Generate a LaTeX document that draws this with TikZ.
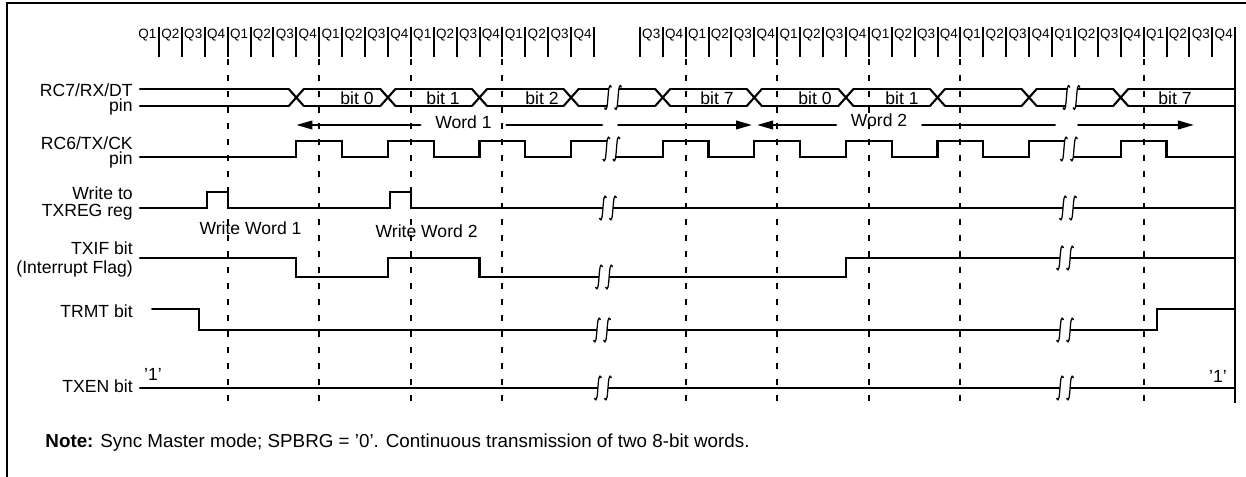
\documentclass[tikz,border=0pt]{standalone}
\usepackage{fontspec}
\setmainfont{Liberation Sans}
\usetikzlibrary{arrows.meta}
% break mark: two wavy strokes with a white gap between
\newcommand{\sigbreak}[3]{%
	\fill[white] (#1-0.07,#2-#3+3) .. controls (#1-0.265,#2-#3-8) and (#1-0.175,#2+#3+8) .. (#1-0.37,#2+#3-3)
		-- (#1+0.07,#2+#3-3) .. controls (#1+0.265,#2+#3+8) and (#1+0.175,#2-#3-8) .. (#1+0.37,#2-#3+3) -- cycle;
	\draw[brk] (#1-0.07,#2-#3+3) .. controls (#1-0.265,#2-#3-8) and (#1-0.175,#2+#3+8) .. (#1-0.37,#2+#3-3);
	\draw[brk] (#1+0.37,#2-#3+3) .. controls (#1+0.175,#2-#3-8) and (#1+0.265,#2+#3+8) .. (#1+0.07,#2+#3-3);
}
\begin{document}
\begin{tikzpicture}[x=4.58mm, y=-0.2mm,
		sig/.style={line width=0.42mm, line cap=round},
		tick/.style={line width=0.4mm},
		guide/.style={line width=0.4mm, dash pattern=on 1.2mm off 2mm},
		brk/.style={line width=0.25mm},
		wordarrow/.style={sig, -{Triangle[length=3.2mm,width=1.7mm]}},
		lbl/.style={font=\fontsize{10}{12}\selectfont, inner sep=0pt, anchor=base east},
		qlbl/.style={font=\fontsize{7.7}{9}\selectfont, inner sep=0pt, anchor=base},
		bitlbl/.style={font=\fontsize{10}{12}\selectfont, inner sep=0pt, anchor=base},
		wordlbl/.style={font=\fontsize{10}{12}\selectfont, inner ysep=0pt, inner xsep=2.9mm, anchor=base}]
				\useasboundingbox (-5.939,0) rectangle (48.472,477);
				% frame
				\draw[line width=0.5mm] (-5.63,477) -- (-5.63,3) -- (48.6,3);
				% Q cycles
				\foreach \k in {1,...,46} {
					\pgfmathtruncatemacro\j{\k+(\k>20)}
					\draw[tick] (\j,27) -- (\j,57);
				}
				\foreach \k in {0,...,45} {
					\pgfmathtruncatemacro\j{\k+2*(\k>19)}
					\pgfmathtruncatemacro\q{mod(\j,4)+1}
					\node[qlbl] (q\j) at (\j+0.5,39) {Q\q};
				}
				\draw[tick] (48,27) -- (48,403);
				% cycle boundaries
				\foreach \x in {4,8,12,16,24,28,32,36,44}
					\draw[guide] (\x,27) -- (\x,407);

				% RC7/RX/DT data
				\foreach \n in {1,...,10}
					\draw[sig] (4*\n+2.67,89) -- (4*\n+3.33,106) (4*\n+2.67,106) -- (4*\n+3.33,89);
				\draw[sig] (0.17,89) -- (6.67,89) (0.17,106) -- (6.67,106);
				\foreach \n in {1,...,9}
					\draw[sig] (4*\n+3.33,89) -- (4*\n+6.67,89) (4*\n+3.33,106) -- (4*\n+6.67,106);
				\draw[sig] (43.33,89) -- (48,89) (43.33,106) -- (48,106);
				\foreach \x/\t/\nm in {9.65/0/ba, 13.41/1/bb, 17.73/2/bc, 25.37/7/bd, 29.65/0/be, 33.45/1/bf, 45.37/7/bg}
					\node[bitlbl] (\nm) at (\x,105) {bit \t};

				% words
				\coordinate (w1l) at (7,125);
				\coordinate (w1b) at (20.35,125);
				\coordinate (w1c) at (21.05,125);
				\coordinate (w1r) at (26.9,125);
				\node[wordlbl] (word1) at (14.3,129) {Word 1};
				\draw[wordarrow] (word1.west |- w1l) -- (w1l);
				\draw[sig] (word1.east |- w1l) -- (w1b);
				\draw[wordarrow] (w1c) -- (w1r);
				\coordinate (w2l) at (27.12,125);
				\coordinate (w2b) at (40.13,125);
				\coordinate (w2c) at (41.14,125);
				\coordinate (w2r) at (46.2,125);
				\node[wordlbl] (word2) at (32.45,127) {Word 2};
				\draw[wordarrow] (word2.west |- w2l) -- (w2l);
				\draw[sig] (word2.east |- w2l) -- (w2b);
				\draw[wordarrow] (w2c) -- (w2r);

				% RC6/TX/CK clock
				\draw[sig] (0.17,157) \foreach \r/\f in {7/9, 11/13, 15/17, 19/20.76, 23/25, 27/29, 31/33, 35/37, 39/40.74, 43/45} { -| (\r,141) -| (\f,157) } -- (48,157);

				% other signals
				\draw[sig] (0.17,208) -| (3.1,192) -| (4,208) -| (11.1,192) -| (12,208) -- (48,208);
				\draw[sig] (0.17,258) -| (7,277) -| (11,258) -| (15,277) -| (31,258) -- (48,258);
				\draw[sig] (0.7,309) -| (2.75,330) -| (44.6,309) -- (48,309);
				\draw[sig] (0.17,388) -- (48,388);

				% breaks
				\foreach \x/\y in {20.83/97.5, 40.85/97.5, 20.76/149, 40.74/149, 20.61/208, 40.70/208, 20.44/277, 40.57/258, 20.35/330, 40.57/330, 20.39/388, 40.57/388} {
					\sigbreak{\x}{\y}{13}
				}

				% names
				\node[lbl] (rc7a) at (-0.13,97) {RC7/RX/DT};
				\node[lbl] (rc7b) at (-0.13,112) {pin};
				\node[lbl] (rc6a) at (-0.13,150) {RC6/TX/CK};
				\node[lbl] (rc6b) at (-0.13,165) {pin};
				\node[lbl] (wra) at (-0.13,200) {Write to};
				\node[lbl] (wrb) at (-0.13,217) {TXREG reg};
				\node[lbl] (txifa) at (-0.13,255) {TXIF bit};
				\node[lbl] (txifb) at (-0.13,274) {(Interrupt Flag)};
				\node[lbl] (trmt) at (-0.13,318) {TRMT bit};
				\node[lbl] (txen) at (-0.13,393) {TXEN bit};
				\node[lbl, anchor=base] (ww1) at (5.0,235) {Write Word 1};
				\node[lbl, anchor=base] (ww2) at (12.69,238) {Write Word 2};
				\node[lbl, anchor=base] (one1) at (0.74,381) {'1'};
				\node[lbl, anchor=base] (one2) at (47.25,383) {'1'};
				\node[lbl, anchor=base west, font=\fontsize{10.7}{12}\selectfont] (note) at (-3.97,448) {\textbf{Note:} Sync Master mode; SPBRG = '0'. Continuous transmission of two 8-bit words.};
			\end{tikzpicture}
\end{document}
